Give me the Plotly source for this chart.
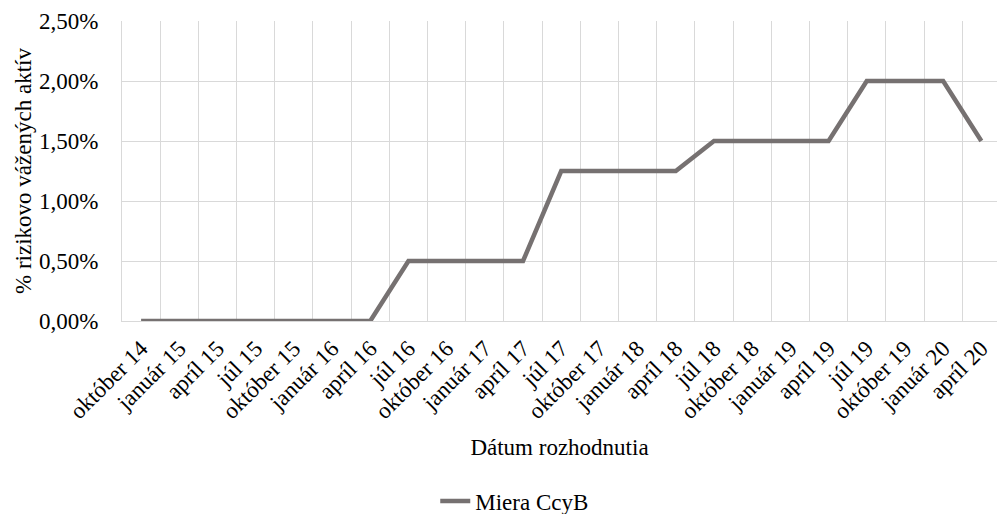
import plotly.graph_objects as go

categories = ["október 14", "január 15", "apríl 15", "júl 15", "október 15", "január 16",
              "apríl 16", "júl 16", "október 16", "január 17", "apríl 17", "júl 17",
              "október 17", "január 18", "apríl 18", "júl 18", "október 18", "január 19",
              "apríl 19", "júl 19", "október 19", "január 20", "apríl 20"]
ccyb_rate = [0, 0, 0, 0, 0, 0, 0, 0.5, 0.5, 0.5, 0.5, 1.25, 1.25, 1.25, 1.25,
             1.5, 1.5, 1.5, 1.5, 2.0, 2.0, 2.0, 1.5]
y_ticks = [0, 0.5, 1.0, 1.5, 2.0, 2.5]
y_tick_labels = ["0,00%", "0,50%", "1,00%", "1,50%", "2,00%", "2,50%"]

FONT = "Liberation Serif"
GRID = "#d9d9d9"
FS = 23

fig = go.Figure()
fig.add_trace(go.Scatter(
    x=categories, y=ccyb_rate, mode="lines", name="Miera CcyB",
    line=dict(color="#767171", width=4.5),
))

fig.update_layout(
    width=997, height=514,
    margin=dict(l=122, r=0, t=21, b=193, autoexpand=False),
    paper_bgcolor="white", plot_bgcolor="white",
    font=dict(family=FONT, size=FS, color="black"),
    showlegend=True,
    legend=dict(orientation="h", x=0.358, xanchor="left", y=-0.6, yanchor="middle",
                font=dict(family=FONT, size=FS)),
    xaxis=dict(
        type="category", range=[-0.5, 22.41], tickson="boundaries",
        showgrid=True, gridcolor=GRID, gridwidth=1,
        showline=True, linecolor=GRID, linewidth=1,
        ticks="", tickangle=-45, ticklabelstandoff=4, tickfont=dict(family=FONT, size=FS),
        title=dict(text="Dátum rozhodnutia", font=dict(family=FONT, size=FS), standoff=16),
        automargin=False,
    ),
    yaxis=dict(
        range=[0, 2.5], tickvals=y_ticks, ticktext=y_tick_labels,
        showgrid=True, gridcolor=GRID, gridwidth=1, zeroline=False,
        showline=True, linecolor=GRID, linewidth=1,
        ticks="", ticklabelstandoff=18, tickfont=dict(family=FONT, size=FS),
        title=dict(text="% rizikovo vážených aktív", font=dict(family=FONT, size=FS), standoff=0),
        automargin=False,
    ),
)

fig.write_html("out.html", config={"displayModeBar": False},
               post_script="document.body.style.margin='0';")
